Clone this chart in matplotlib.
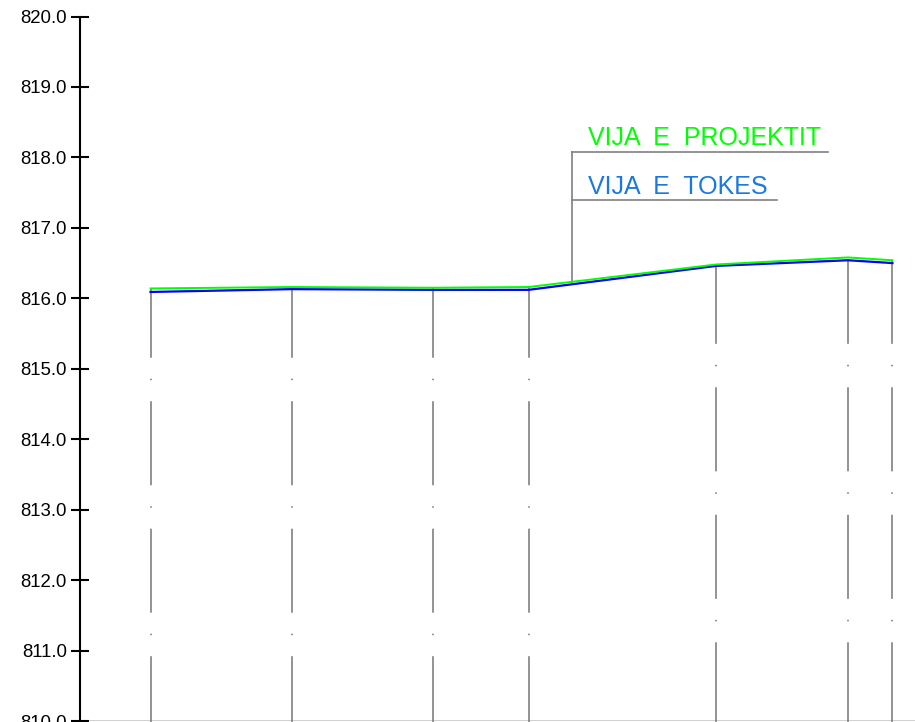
import numpy as np
import matplotlib
matplotlib.use("Agg")
import matplotlib.pyplot as plt

# profile stations (chainage, m) and elevations (m)
chainage = [10.0, 30.0, 50.0, 63.6, 90.2, 108.9, 115.2]
elev_design = [816.14, 816.16, 816.15, 816.16, 816.48, 816.58, 816.54]
elev_ground = [816.09, 816.13, 816.12, 816.12, 816.46, 816.54, 816.50]
yticks = [810.0, 811.0, 812.0, 813.0, 814.0, 815.0, 816.0, 817.0, 818.0, 819.0, 820.0]
label_design = "VIJA  E  PROJEKTIT"
label_ground = "VIJA  E  TOKES"

GREEN = "#00ff00"
BLUE = "#0000ff"
LABEL_BLUE = "#1a78e0"
GRAY = "#808080"

plt.rcParams["font.family"] = ["Liberation Sans", "DejaVu Sans"]
plt.rcParams["lines.scale_dashes"] = False

fig = plt.figure(figsize=(9.15, 7.22), dpi=100)
ax = fig.add_axes([80 / 915, 1 / 722, 1 - 80 / 915, 704.5 / 722])
ax.set_xlim(0, 118.4)
ax.set_ylim(810, 820)

# station verticals, dash-dot, phase differs between the two groups
dash_seq = [60.5, 15.1, 1.1, 15.1]
phase = [12.4, 12.4, 12.4, 12.4, 2.4, 2.4, 2.4]
for x, top, ph in zip(chainage, elev_design, phase):
    ax.plot([x, x], [809, top], color=GRAY, lw=1.2, clip_on=False,
            linestyle=(ph, dash_seq))

ax.plot(chainage, elev_ground, color=BLUE, lw=1.6, zorder=3)
ax.plot(chainage, elev_design, color=GREEN, lw=1.4, zorder=4)

# leader with the two line labels
xl = 69.8
yl = np.interp(xl, chainage, elev_design)
ax.plot([xl, xl], [yl, 818.08], color=GRAY, lw=1.2, zorder=2)
ax.plot([xl, 106.1], [818.08, 818.08], color=GRAY, lw=1.2)
ax.plot([xl, 98.9], [817.39, 817.39], color=GRAY, lw=1.2)
ax.text(72.0, 818.18, label_design, color=GREEN, fontsize=18, va="baseline", ha="left")
ax.text(72.0, 817.48, label_ground, color=LABEL_BLUE, fontsize=18, va="baseline", ha="left")

# datum line along the bottom
ax.axhline(810, color="#c8c8c8", lw=1.2, zorder=1)

for s in ["top", "right", "bottom"]:
    ax.spines[s].set_visible(False)
ax.spines["left"].set_linewidth(1.5)
ax.set_xticks([])
ax.set_yticks(yticks)
ax.set_yticklabels([f"{v:.1f}" for v in yticks])
ax.tick_params(axis="y", direction="inout", length=13, width=1.5, pad=3, labelsize=13.4)

fig.savefig("out.png", dpi=100)
